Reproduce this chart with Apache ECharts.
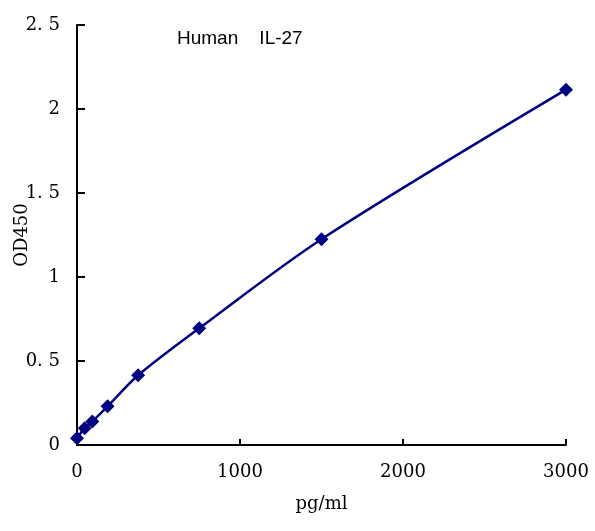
<!DOCTYPE html>
<html>
<head>
<meta charset="utf-8">
<script src="https://cdn.jsdelivr.net/npm/echarts@6/dist/echarts.min.js"></script>
<style>
html,body{margin:0;padding:0;background:#fff;}
#chart{width:595px;height:531px;}
</style>
</head>
<body>
<div id="chart"></div>
<script>
// 标准曲线数据
var concentrations = [0, 46.88, 93.75, 187.5, 375, 750, 1500, 3000];
var odValues = [0.04, 0.1, 0.14, 0.23, 0.415, 0.695, 1.225, 2.115];
var yTickLabels = ['0', '0. 5', '1', '1. 5', '2', '2. 5'];
var xTickLabels = ['0', '1000', '2000', '3000'];

var serif = '"DejaVu Serif", "Liberation Serif", serif';

let setChart = function(ele, options) {
    let myChart = echarts.init(ele, null, {renderer: 'canvas'})
    myChart.setOption(options)
    return myChart
}

var points = concentrations.map(function(c, i) { return [c, odValues[i]] })

setChart(document.getElementById('chart'), {
    animation: false,
    backgroundColor: '#fff',
    title: {
        text: 'Human    IL-27',
        left: 172,
        top: 24,
        textStyle: {fontFamily: '"Liberation Sans", Arial, sans-serif', fontSize: 19, fontWeight: 'normal', color: '#000'}
    },
    grid: {left: 77, right: 29, top: 25, bottom: 86, outerBoundsMode: 'none', containLabel: false},
    xAxis: {
        type: 'value',
        min: 0, max: 3000, interval: 1000,
        name: 'pg/ml',
        nameLocation: 'middle',
        nameGap: 50,
        nameMoveOverlap: false,
        nameTextStyle: {fontFamily: serif, fontSize: 18, color: '#000'},
        splitLine: {show: false},
        axisLine: {lineStyle: {color: '#000', width: 2}},
        axisTick: {inside: true, length: 6, lineStyle: {color: '#000', width: 2}},
        axisLabel: {
            margin: 18,
            fontFamily: serif, fontSize: 18, color: '#000',
            formatter: function(v) { return xTickLabels[Math.round(v / 1000)] }
        }
    },
    yAxis: {
        type: 'value',
        min: 0, max: 2.5, interval: 0.5,
        name: 'OD450',
        nameLocation: 'middle',
        nameGap: 46,
        nameMoveOverlap: false,
        nameTextStyle: {fontFamily: serif, fontSize: 18, color: '#000'},
        splitLine: {show: false},
        axisLine: {lineStyle: {color: '#000', width: 2}},
        axisTick: {inside: true, length: 8, lineStyle: {color: '#000', width: 2}},
        axisLabel: {
            margin: 17,
            fontFamily: serif, fontSize: 18, color: '#000',
            formatter: function(v) { return yTickLabels[Math.round(v * 2)] }
        }
    },
    series: [{
        type: 'line',
        data: points,
        smooth: 0.3,
        symbol: 'diamond',
        symbolSize: 14,
        lineStyle: {color: '#000080', width: 2.5},
        itemStyle: {color: '#000080'}
    }]
})
</script>
</body>
</html>
